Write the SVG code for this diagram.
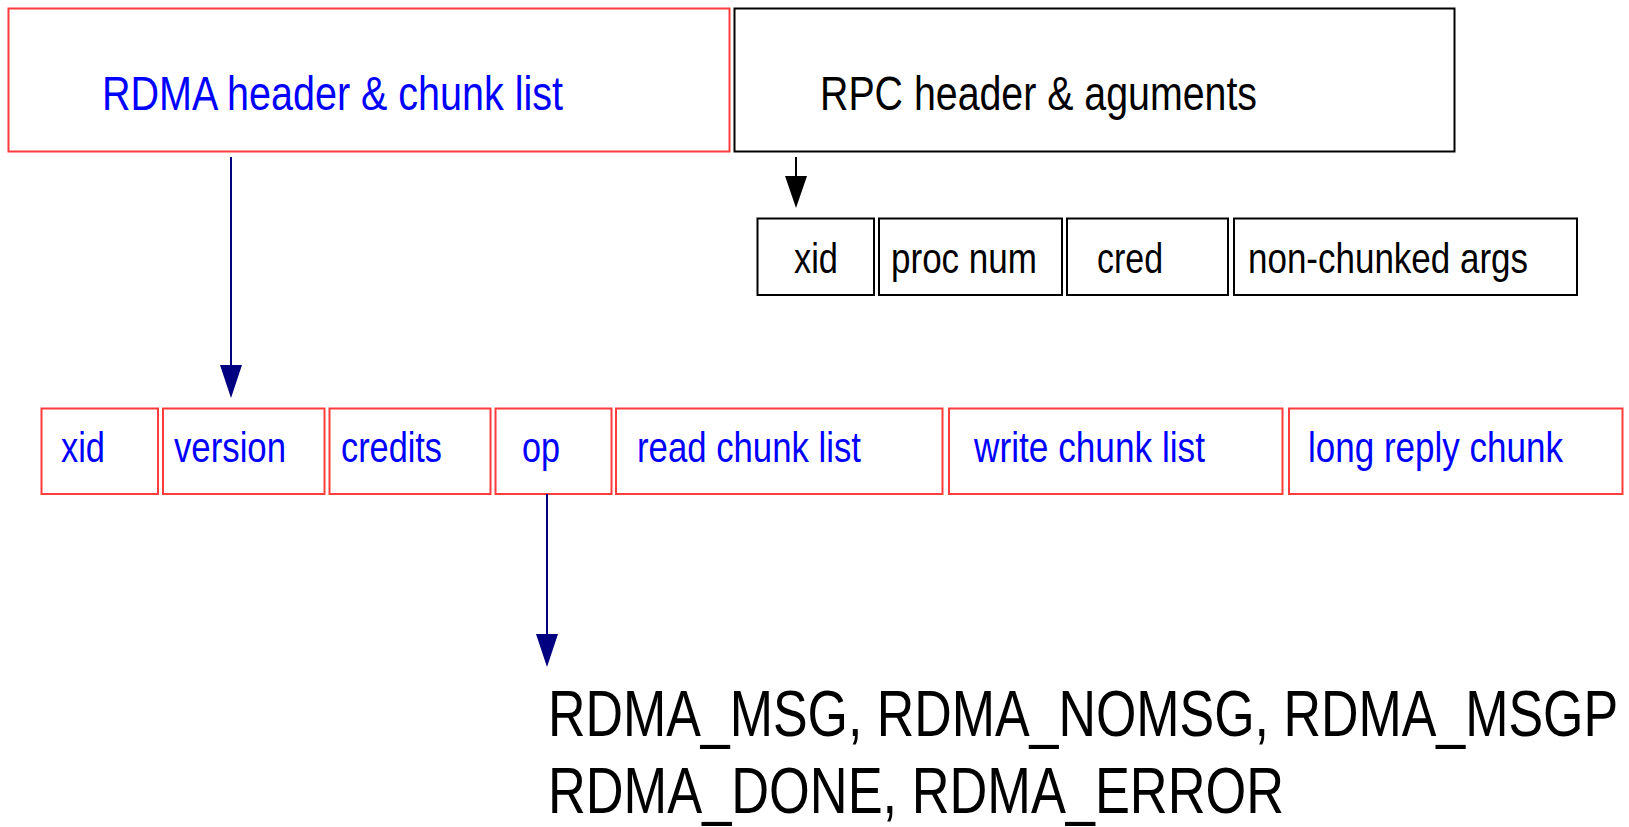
<svg xmlns="http://www.w3.org/2000/svg" width="1629" height="827" viewBox="0 0 1629 827">
  <style>
    .bg { fill: #ffffff; }
    .rbox { fill: #ffffff; stroke: #ff3c3c; stroke-width: 2; }
    .kbox { fill: #ffffff; stroke: #000000; stroke-width: 2; }
    text { font-family: "Liberation Sans Narrow", "Liberation Sans", Arial, sans-serif; }
    .blue { fill: #0000ff; }
    .black { fill: #000000; }
    .big { font-size: 48px; }
    .mid { font-size: 42px; }
    .huge { font-size: 64px; }
    .navy { stroke: #000080; stroke-width: 2; fill: none; }
    .kline { stroke: #000000; stroke-width: 2; fill: none; }
  </style>
  <defs>
    <marker id="headNavy" markerUnits="userSpaceOnUse" viewBox="0 -11 33 22" markerWidth="33" markerHeight="22" refX="0" refY="0" orient="auto">
      <path d="M0,-11 L33,0 L0,11 Z" fill="#000080"/>
    </marker>
    <marker id="headBlack" markerUnits="userSpaceOnUse" viewBox="0 -11 32 22" markerWidth="32" markerHeight="22" refX="0" refY="0" orient="auto">
      <path d="M0,-11 L32,0 L0,11 Z" fill="#000000"/>
    </marker>
  </defs>
  <rect class="bg" x="0" y="0" width="1629" height="827"/>

  <!-- top-level message parts -->
  <g id="rdma-header">
    <rect class="rbox" x="8.5" y="8.5" width="721" height="143"/>
    <text class="blue big" x="102" y="110" textLength="461" lengthAdjust="spacingAndGlyphs">RDMA header &amp; chunk list</text>
  </g>
  <g id="rpc-header">
    <rect class="kbox" x="734.5" y="8.5" width="720" height="143"/>
    <text class="black big" x="820" y="110" textLength="437" lengthAdjust="spacingAndGlyphs">RPC header &amp; aguments</text>
  </g>

  <!-- RPC header fields -->
  <g id="rpc-xid">
    <rect class="kbox" x="757.5" y="218.5" width="116.5" height="76.5"/>
    <text class="black mid" x="794" y="273" textLength="44" lengthAdjust="spacingAndGlyphs">xid</text>
  </g>
  <g id="rpc-proc">
    <rect class="kbox" x="879" y="218.5" width="183" height="76.5"/>
    <text class="black mid" x="891" y="273" textLength="146" lengthAdjust="spacingAndGlyphs">proc num</text>
  </g>
  <g id="rpc-cred">
    <rect class="kbox" x="1067" y="218.5" width="161" height="76.5"/>
    <text class="black mid" x="1097" y="273" textLength="66" lengthAdjust="spacingAndGlyphs">cred</text>
  </g>
  <g id="rpc-args">
    <rect class="kbox" x="1234" y="218.5" width="343" height="76.5"/>
    <text class="black mid" x="1248" y="273" textLength="280" lengthAdjust="spacingAndGlyphs">non-chunked args</text>
  </g>

  <!-- RDMA header fields -->
  <g id="f-xid">
    <rect class="rbox" x="41.5" y="408.5" width="116.5" height="85.5"/>
    <text class="blue mid" x="61" y="462" textLength="44" lengthAdjust="spacingAndGlyphs">xid</text>
  </g>
  <g id="f-version">
    <rect class="rbox" x="163" y="408.5" width="161.5" height="85.5"/>
    <text class="blue mid" x="174" y="462" textLength="112" lengthAdjust="spacingAndGlyphs">version</text>
  </g>
  <g id="f-credits">
    <rect class="rbox" x="329.5" y="408.5" width="161" height="85.5"/>
    <text class="blue mid" x="341" y="462" textLength="101" lengthAdjust="spacingAndGlyphs">credits</text>
  </g>
  <g id="f-op">
    <rect class="rbox" x="495.5" y="408.5" width="116" height="85.5"/>
    <text class="blue mid" x="522" y="462" textLength="38" lengthAdjust="spacingAndGlyphs">op</text>
  </g>
  <g id="f-read">
    <rect class="rbox" x="616" y="408.5" width="326.5" height="85.5"/>
    <text class="blue mid" x="637" y="462" textLength="224" lengthAdjust="spacingAndGlyphs">read chunk list</text>
  </g>
  <g id="f-write">
    <rect class="rbox" x="949" y="408.5" width="333.5" height="85.5"/>
    <text class="blue mid" x="974" y="462" textLength="231" lengthAdjust="spacingAndGlyphs">write chunk list</text>
  </g>
  <g id="f-longreply">
    <rect class="rbox" x="1289" y="408.5" width="333.5" height="85.5"/>
    <text class="blue mid" x="1308" y="462" textLength="255" lengthAdjust="spacingAndGlyphs">long reply chunk</text>
  </g>

  <!-- op values -->
  <g id="op-values">
    <text class="black huge" x="548" y="736" textLength="1070" lengthAdjust="spacingAndGlyphs">RDMA_MSG, RDMA_NOMSG, RDMA_MSGP</text>
    <text class="black huge" x="548" y="813" textLength="736" lengthAdjust="spacingAndGlyphs">RDMA_DONE, RDMA_ERROR</text>
  </g>

  <!-- connectors -->
  <g id="connectors">
    <line class="navy" x1="231" y1="157" x2="231" y2="365" marker-end="url(#headNavy)"/>
    <line class="kline" x1="796" y1="157" x2="796" y2="176" marker-end="url(#headBlack)"/>
    <line class="navy" x1="547" y1="494" x2="547" y2="634" marker-end="url(#headNavy)"/>
  </g>
</svg>
